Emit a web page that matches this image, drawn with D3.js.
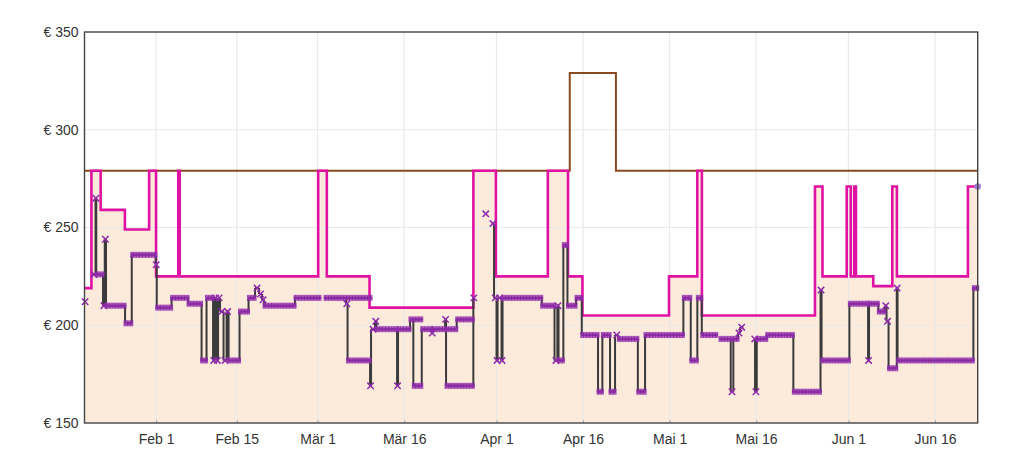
<!DOCTYPE html>
<html>
<head>
<meta charset="utf-8">
<script src="https://cdn.jsdelivr.net/npm/d3@7"></script>
<style>
  body { margin: 0; background: #fff; }
  svg { display: block; font-family: "Open Sans", "Noto Sans", sans-serif; }
</style>
</head>
<body>
<div id="chart"></div>
<script>
// times are days since Jan 1 (fractional), prices in euro
var startDay = 18.6,
    endDay   = 173.4;

var tickDays   = [31, 45, 59, 74, 90, 105, 120, 135, 151, 166];
var tickLabels = ['Feb 1', 'Feb 15', 'Mär 1', 'Mär 16', 'Apr 1', 'Apr 16', 'Mai 1', 'Mai 16', 'Jun 1', 'Jun 16'];
var priceTicks = [150, 200, 250, 300, 350];

// brown line: [day, price]
var listPrice = [[18.6, 279], [102.7, 329], [110.7, 279]];

// magenta stepped line (area below it is filled)
var pinkPrice = [
  [18.6, 219], [19.8, 279], [21.4, 259], [25.6, 249], [29.8, 279], [31.0, 225],
  [34.85, 279], [35.1, 225], [59.1, 279], [60.6, 225], [68.0, 209], [86.0, 279],
  [89.9, 225], [98.9, 279], [102.4, 225], [104.9, 205], [119.9, 225], [124.8, 279],
  [125.6, 205], [145.2, 271], [146.5, 225], [150.7, 271], [151.4, 225], [152.0, 271],
  [152.3, 225], [155.3, 220], [158.6, 271], [159.4, 225], [171.7, 271]
];

// dark line with x markers: [from day, to day, price]
var offers = [
  [18.7, 18.7, 212], [19.99, 20.51, 226], [20.51, 20.64, 265], [20.64, 21.81, 226],
  [21.81, 22.11, 210], [22.11, 22.33, 244], [22.33, 25.63, 210], [25.63, 26.79, 201],
  [26.79, 30.95, 236], [30.95, 31.12, 231], [31.12, 33.69, 209], [33.69, 36.55, 214],
  [36.55, 38.89, 211], [38.89, 39.75, 182], [39.75, 40.88, 214], [40.88, 41.14, 182],
  [41.14, 41.49, 214], [41.49, 41.75, 182], [41.75, 42.09, 214], [42.09, 42.7, 207],
  [42.7, 43.22, 182], [43.22, 43.57, 207], [43.57, 45.47, 182], [45.47, 47.03, 207],
  [47.03, 48.16, 214], [48.16, 48.85, 219], [48.85, 49.37, 216], [49.37, 49.72, 213],
  [49.72, 55.09, 210], [55.09, 59.42, 214],
  [60.29, 68.26, 214], [63.93, 64.19, 211], [64.19, 68.09, 182], [68.09, 68.26, 169],
  [68.26, 68.95, 198], [68.95, 69.21, 202], [69.21, 72.77, 198], [72.77, 72.94, 169],
  [72.94, 75.02, 198], [75.02, 77.05, 203], [75.59, 77.05, 169], [77.05, 78.78, 198],
  [78.78, 78.95, 196], [78.95, 81.09, 198], [81.09, 81.26, 203], [81.26, 83.11, 198],
  [83.11, 85.99, 203], [81.26, 85.99, 169], [85.99, 86.16, 214],
  [88.14, 88.14, 257],
  [89.18, 89.58, 252], [89.58, 90.01, 214], [90.01, 90.19, 182], [90.19, 90.88, 214],
  [90.88, 91.05, 182], [91.05, 97.85, 214], [97.85, 100.06, 210], [100.06, 100.55, 182],
  [100.55, 100.76, 210], [100.76, 101.59, 182], [101.59, 102.3, 241], [102.3, 103.79, 210],
  [103.79, 104.78, 214], [104.78, 107.6, 195], [107.6, 108.35, 166], [108.35, 109.68, 195],
  [109.68, 110.55, 166], [110.55, 111.12, 195], [111.12, 114.5, 193], [114.5, 115.75, 166],
  [115.75, 122.39, 195], [122.39, 123.67, 214], [123.67, 124.81, 182], [124.81, 125.58, 214],
  [125.58, 128.18, 195],
  [128.75, 130.6, 193], [130.6, 131.05, 166], [131.05, 131.87, 193], [131.87, 132.21, 196],
  [132.21, 132.78, 199],
  [134.7, 134.81, 193], [134.81, 135.11, 166], [135.11, 136.84, 193], [136.84, 141.45, 195],
  [141.45, 146.16, 166], [146.16, 146.34, 218], [146.34, 151.16, 182], [151.16, 154.4, 211],
  [154.4, 154.57, 182], [154.57, 156.18, 211], [156.18, 157.34, 207], [157.34, 157.6, 210],
  [157.6, 157.95, 202], [157.95, 159.37, 178], [159.37, 159.51, 219], [159.51, 172.65, 182],
  [172.65, 173.4, 219]
];

var width = 1020, height = 459;
var plotLeft = 84.5, plotRight = 977.7, plotTop = 32, plotBottom = 423;

var t0 = new Date(2023, 0, 1);
function day(d) { return new Date(+t0 + d * 864e5); }

var x = d3.scaleTime().domain([day(startDay), day(endDay)]).range([plotLeft, plotRight]);
var y = d3.scaleLinear().domain([150, 350]).range([plotBottom, plotTop]);

var svg = d3.select('#chart').append('svg')
    .attr('width', width)
    .attr('height', height);

var purple = '#9029ab';

// x marker texture
var pat = svg.append('defs').append('pattern')
    .attr('id', 'xpat')
    .attr('patternUnits', 'userSpaceOnUse')
    .attr('x', 0).attr('y', -4)
    .attr('width', 3).attr('height', 8);
[0, 3].forEach(function(cx) {
  pat.append('path')
      .attr('d', 'M' + (cx - 2.6) + ',1.3L' + (cx + 2.6) + ',6.7M' + (cx - 2.6) + ',6.7L' + (cx + 2.6) + ',1.3')
      .attr('stroke', purple)
      .attr('stroke-width', 1.5)
      .attr('fill', 'none');
});

function withEnd(steps) {
  return steps.concat([[endDay, steps[steps.length - 1][1]]]);
}

// fill under magenta line
svg.append('path')
    .datum(withEnd(pinkPrice))
    .attr('fill', '#fcebdb')
    .attr('d', d3.area()
        .curve(d3.curveStepAfter)
        .x(function(d) { return x(day(d[0])); })
        .y0(plotBottom)
        .y1(function(d) { return y(d[1]); }));

// grid
svg.append('g').selectAll('line').data([200, 250, 300]).enter().append('line')
    .attr('x1', plotLeft).attr('x2', plotRight)
    .attr('y1', function(d) { return y(d); })
    .attr('y2', function(d) { return y(d); })
    .attr('stroke', '#e9e9e9').attr('stroke-width', 1.2);
svg.append('g').selectAll('line').data(tickDays).enter().append('line')
    .attr('x1', function(d) { return x(day(d)); })
    .attr('x2', function(d) { return x(day(d)); })
    .attr('y1', plotTop).attr('y2', plotBottom)
    .attr('stroke', '#e9e9e9').attr('stroke-width', 1.2);

// axes
var xAxis = svg.append('g')
    .attr('transform', 'translate(0,' + plotBottom + ')')
    .call(d3.axisBottom(x)
        .tickValues(tickDays.map(day))
        .tickFormat(function(d, i) { return tickLabels[i]; })
        .tickSize(-3)
        .tickPadding(11));
xAxis.select('.domain').remove();
xAxis.selectAll('line').attr('stroke', '#aaa');
xAxis.selectAll('text').attr('fill', '#333').style('font-size', '14px');

var yAxis = svg.append('g')
    .attr('transform', 'translate(' + plotLeft + ',0)')
    .call(d3.axisLeft(y)
        .tickValues(priceTicks)
        .tickFormat(function(d) { return '€ ' + d; })
        .tickSize(0)
        .tickPadding(6));
yAxis.select('.domain').remove();
yAxis.selectAll('text').attr('fill', '#333').style('font-size', '14px');

var stepLine = d3.line()
    .curve(d3.curveStepAfter)
    .x(function(d) { return x(day(d[0])); })
    .y(function(d) { return y(d[1]); });

svg.append('path')
    .datum(withEnd(listPrice))
    .attr('fill', 'none')
    .attr('stroke', '#8a4a1f')
    .attr('stroke-width', 2)
    .attr('d', stepLine);

svg.append('path')
    .datum(withEnd(pinkPrice))
    .attr('fill', 'none')
    .attr('stroke', '#e012a3')
    .attr('stroke-width', 2.6)
    .attr('d', stepLine);

// dark line: horizontal runs plus verticals to the previous run when it touches
var darkPath = '';
offers.forEach(function(s, i) {
  var x0 = x(day(s[0])), x1 = x(day(s[1])), yv = y(s[2]);
  if (i > 0) {
    var p = offers[i - 1];
    if (s[0] <= p[1] + 0.05) {
      darkPath += 'M' + x0 + ',' + y(p[2]) + 'V' + yv;
    }
  }
  if (x1 > x0) darkPath += 'M' + x0 + ',' + yv + 'H' + x1;
});
svg.append('path')
    .attr('d', darkPath)
    .attr('fill', 'none')
    .attr('stroke', '#3b3b3b')
    .attr('stroke-width', 2);

// markers
var marks = svg.append('g');
offers.forEach(function(s) {
  var x0 = x(day(s[0])), x1 = x(day(s[1])), yv = y(s[2]);
  if (x1 - x0 < 4) {
    var cx = (x0 + x1) / 2;
    marks.append('path')
        .attr('d', 'M' + (cx - 3.2) + ',' + (yv - 3.2) + 'L' + (cx + 3.2) + ',' + (yv + 3.2) +
                   'M' + (cx - 3.2) + ',' + (yv + 3.2) + 'L' + (cx + 3.2) + ',' + (yv - 3.2))
        .attr('stroke', purple)
        .attr('stroke-width', 1.5);
  } else {
    marks.append('g')
        .attr('transform', 'translate(0,' + yv + ')')
        .append('rect')
        .attr('x', x0 - 1.5)
        .attr('y', -4)
        .attr('width', x1 - x0 + 3)
        .attr('height', 8)
        .attr('fill', 'url(#xpat)');
  }
});

// last point of magenta line
var last = pinkPrice[pinkPrice.length - 1];
svg.append('circle')
    .attr('cx', x(day(endDay)))
    .attr('cy', y(last[1]))
    .attr('r', 3.3)
    .attr('fill', '#a27dd6');

// frame
svg.append('rect')
    .attr('x', plotLeft).attr('y', plotTop)
    .attr('width', plotRight - plotLeft).attr('height', plotBottom - plotTop)
    .attr('fill', 'none')
    .attr('stroke', '#444')
    .attr('stroke-width', 1.4);
</script>
</body>
</html>
